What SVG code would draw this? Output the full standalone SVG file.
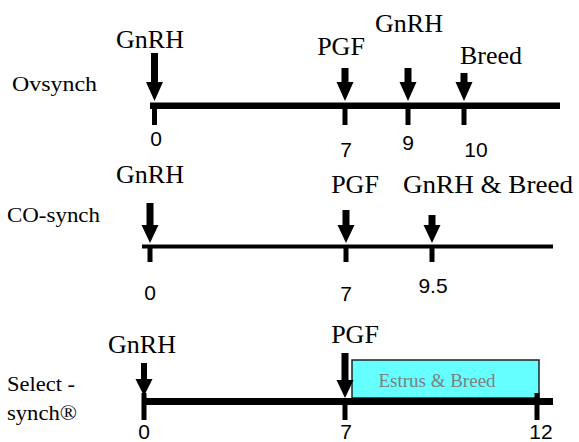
<svg xmlns="http://www.w3.org/2000/svg" width="579" height="442" viewBox="0 0 579 442">
  <style>
    text { font-family: "Liberation Serif", "Times New Roman", serif; fill: #000; }
    .lbl { font-size: 26px; }
    .num { font-family: "Liberation Sans", Arial, sans-serif; font-size: 21px; text-anchor: middle; }
    .mid { text-anchor: middle; }
    .side { font-size: 20px; }
    .bar { fill: #000; }
    .arrow { fill: #000; }
    .window { fill: #66ffff; stroke: #222; stroke-width: 1.5; }
    .window-text { font-size: 19px; fill: #808080; text-anchor: middle; }
  </style>

  <rect width="579" height="442" fill="#fff"/>

  <!-- Ovsynch: GnRH d0, PGF d7, GnRH d9, breed d10 -->
  <g id="ovsynch">
    <text class="side" x="12" y="91" textLength="85" lengthAdjust="spacingAndGlyphs">Ovsynch</text>
    <rect class="bar" x="150" y="102.5" width="410" height="6.5"/>
    <rect class="bar" x="152" y="105" width="5" height="20"/>
    <rect class="bar" x="342.5" y="105" width="5" height="20"/>
    <rect class="bar" x="405.5" y="105" width="5" height="20"/>
    <rect class="bar" x="461.5" y="105" width="5" height="20"/>
    <text class="lbl mid" x="150" y="48">GnRH</text>
    <text class="lbl mid" x="341" y="55">PGF</text>
    <text class="lbl mid" x="409" y="32">GnRH</text>
    <text class="lbl" x="460" y="64">Breed</text>
    <text class="num" x="156" y="146">0</text>
    <text class="num" x="346" y="157">7</text>
    <text class="num" x="408" y="150">9</text>
    <text class="num" x="476" y="157">10</text>
  </g>

  <!-- CO-synch: GnRH d0, PGF d7, GnRH + breed d9.5 -->
  <g id="co-synch">
    <text class="side" x="7" y="222" font-size="19" textLength="93" lengthAdjust="spacingAndGlyphs">CO-synch</text>
    <rect class="bar" x="142" y="244.5" width="411" height="4"/>
    <rect class="bar" x="147.5" y="246" width="5" height="16"/>
    <rect class="bar" x="343.5" y="246" width="5" height="16"/>
    <rect class="bar" x="429.5" y="246" width="5" height="16"/>
    <text class="lbl mid" x="150" y="183">GnRH</text>
    <text class="lbl mid" x="355" y="193">PGF</text>
    <text class="lbl" x="403" y="193" textLength="170" lengthAdjust="spacingAndGlyphs">GnRH &amp; Breed</text>
    <text class="num" x="150" y="300">0</text>
    <text class="num" x="346" y="301">7</text>
    <text class="num" x="433" y="293">9.5</text>
  </g>

  <!-- Select-synch: GnRH d0, PGF d7, estrus detection and breeding d7-12 -->
  <g id="select-synch">
    <text class="side" x="7" y="391" textLength="68" lengthAdjust="spacingAndGlyphs">Select -</text>
    <text class="side" x="7" y="420" textLength="70" lengthAdjust="spacingAndGlyphs">synch®</text>
    <rect class="window" x="352" y="360" width="187" height="38"/>
    <text class="window-text" x="437" y="387">Estrus &amp; Breed</text>
    <rect class="bar" x="143" y="398" width="410" height="7"/>
    <rect class="bar" x="141.5" y="393" width="5" height="27"/>
    <rect class="bar" x="342.5" y="398" width="5" height="22"/>
    <rect class="bar" x="534.5" y="393" width="5" height="27"/>
    <text class="lbl mid" x="142" y="353">GnRH</text>
    <text class="lbl mid" x="355" y="343">PGF</text>
    <text class="num" x="144" y="439">0</text>
    <text class="num" x="346" y="439">7</text>
    <text class="num" x="541" y="439">12</text>
  </g>

  <!-- treatment arrows -->
  <g id="connectors">
    <path class="arrow" d="M151 53 H158 V82 H163 L154.5 101 L146 82 H151 Z"/>
    <path class="arrow" d="M341.5 68 H348.5 V82 H353.5 L345 101 L336.5 82 H341.5 Z"/>
    <path class="arrow" d="M404.5 68 H411.5 V82 H416.5 L408 101 L399.5 82 H404.5 Z"/>
    <path class="arrow" d="M460.5 73 H467.5 V82 H472.5 L464 101 L455.5 82 H460.5 Z"/>

    <path class="arrow" d="M146.5 203 H153.5 V225 H158.5 L150 243 L141.5 225 H146.5 Z"/>
    <path class="arrow" d="M342.5 210 H349.5 V225 H354.5 L346 243 L337.5 225 H342.5 Z"/>
    <path class="arrow" d="M428.5 215 H435.5 V225 H440.5 L432 243 L423.5 225 H428.5 Z"/>

    <path class="arrow" d="M141 363 H147 V379 H152.5 L144 396 L135.5 379 H141 Z"/>
    <path class="arrow" d="M341.5 353 H348.5 V380 H353.5 L345 398 L336.5 380 H341.5 Z"/>
  </g>
</svg>
